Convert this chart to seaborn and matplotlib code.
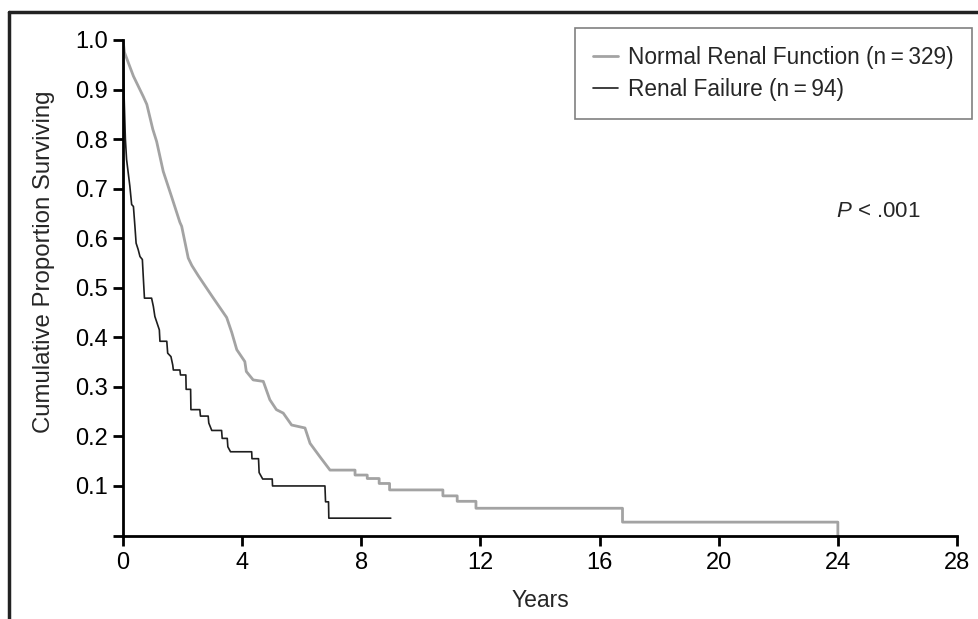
import matplotlib
matplotlib.use("Agg")
import matplotlib.pyplot as plt
import seaborn as sns
import pandas as pd
from matplotlib.lines import Line2D

# ---- data ----
normal_years = [0.0, 0.05, 0.18, 0.35, 0.68, 0.80, 1.00, 1.13, 1.35, 1.63, 1.91, 1.97,
                2.19, 2.31, 2.53, 3.00, 3.48, 3.65, 3.82, 4.09, 4.14, 4.37, 4.71, 4.93,
                5.15, 5.38, 5.66, 6.11, 6.28, 6.61, 6.95, 7.79, 7.79, 8.20, 8.20, 8.60,
                8.60, 8.95, 8.95, 10.74, 10.74, 11.22, 11.22, 11.85, 11.85, 16.77, 16.77,
                24.0, 24.0]
normal_surv = [1.0, 0.975, 0.954, 0.927, 0.886, 0.870, 0.820, 0.795, 0.735, 0.684, 0.632, 0.624,
               0.560, 0.545, 0.524, 0.482, 0.440, 0.410, 0.375, 0.351, 0.331, 0.314, 0.311, 0.274,
               0.254, 0.247, 0.223, 0.217, 0.186, 0.159, 0.132, 0.132, 0.122, 0.122, 0.115, 0.115,
               0.105, 0.105, 0.092, 0.092, 0.080, 0.080, 0.069, 0.069, 0.055, 0.055, 0.027,
               0.027, 0.0]

failure_years = [0.0, 0.03, 0.08, 0.12, 0.23, 0.29, 0.35, 0.40, 0.44, 0.51, 0.57, 0.65, 0.68,
                 0.72, 0.96, 1.02, 1.07, 1.22, 1.24, 1.47, 1.50, 1.61, 1.67, 1.69, 1.91, 1.93,
                 2.11, 2.12, 2.27, 2.28, 2.58, 2.60, 2.86, 2.88, 2.98, 3.31, 3.33, 3.50, 3.52,
                 3.61, 4.32, 4.33, 4.55, 4.57, 4.69, 5.01, 5.02, 6.78, 6.80, 6.90, 6.91, 8.99]
failure_surv = [1.0, 0.90, 0.80, 0.759, 0.705, 0.668, 0.664, 0.624, 0.590, 0.577, 0.563, 0.557, 0.523,
                0.479, 0.479, 0.462, 0.442, 0.415, 0.392, 0.392, 0.368, 0.361, 0.344, 0.334, 0.334, 0.324,
                0.324, 0.295, 0.295, 0.254, 0.254, 0.241, 0.241, 0.227, 0.212, 0.212, 0.196, 0.196, 0.179,
                0.169, 0.169, 0.155, 0.155, 0.127, 0.114, 0.114, 0.100, 0.100, 0.068, 0.068, 0.035, 0.035]

labels = ["Normal Renal Function (n\u2009=\u2009329)", "Renal Failure (n\u2009=\u200994)"]
x_ticks = [0, 4, 8, 12, 16, 20, 24, 28]
y_ticks = [0.0, 0.1, 0.2, 0.3, 0.4, 0.5, 0.6, 0.7, 0.8, 0.9, 1.0]
y_ticklabels = ["", "0.1", "0.2", "0.3", "0.4", "0.5", "0.6", "0.7", "0.8", "0.9", "1.0"]
p_text = "$P$ < .001"

sns.set_theme(style="ticks")
FONT = ["Liberation Sans Narrow", "Liberation Sans", "DejaVu Sans"]
plt.rcParams["font.family"] = FONT
plt.rcParams["mathtext.fontset"] = "custom"
plt.rcParams["mathtext.it"] = "Liberation Sans:italic"
plt.rcParams["mathtext.rm"] = "Liberation Sans"

W, H = 979, 619
fig = plt.figure(figsize=(W / 100, H / 100), dpi=100)
ax = fig.add_axes([123 / W, 1 - 535.5 / H, (957 - 123) / W, (535.5 - 40) / H])

df_n = pd.DataFrame({"Years": normal_years, "Surv": normal_surv})
df_f = pd.DataFrame({"Years": failure_years, "Surv": failure_surv})

sns.lineplot(data=df_n, x="Years", y="Surv", sort=False, estimator=None, ax=ax,
             color="#a3a3a3", linewidth=2.0, label=labels[0])
sns.lineplot(data=df_f, x="Years", y="Surv", sort=False, estimator=None, ax=ax,
             color="#1e1e1e", linewidth=1.2, label=labels[1])

ax.set_xlim(0, 28)
ax.set_ylim(0, 1.0)
ax.set_xticks(x_ticks)
ax.set_xticklabels([str(t) for t in x_ticks])
ax.set_yticks(y_ticks)
ax.set_yticklabels(y_ticklabels)
ax.tick_params(axis="both", direction="out", length=7, width=2, labelsize=17,
               colors="black", pad=4)
ax.tick_params(axis="x", pad=5)
for s in ["top", "right"]:
    ax.spines[s].set_visible(False)
for s in ["left", "bottom"]:
    ax.spines[s].set_linewidth(2)
    ax.spines[s].set_color("black")

ax.set_xlabel("Years", fontsize=16.5, labelpad=11)
ax.set_ylabel("Cumulative Proportion Surviving", fontsize=17.3)
ax.yaxis.set_label_coords(-0.081, 0.553)

ax.text(0.905, 0.654, p_text, transform=ax.transAxes, fontsize=16,
        ha="center", va="center")

leg = ax.legend(loc="upper right", bbox_to_anchor=(972 / W, 1 - 28 / H),
                bbox_transform=fig.transFigure, borderaxespad=0, fontsize=16.3,
                frameon=True, fancybox=False, edgecolor="#808080",
                handlelength=1.1, handletextpad=0.45, borderpad=0.8,
                labelspacing=0.38)
leg.get_frame().set_linewidth(1.2)
leg.get_frame().set_alpha(1)

# outer frame (top and left edges of the enclosing box)
fig.add_artist(Line2D([9 / W, 1], [1 - 11.5 / H, 1 - 11.5 / H], transform=fig.transFigure,
                      color="#222222", linewidth=2.5))
fig.add_artist(Line2D([9 / W, 9 / W], [0, 1 - 11.5 / H], transform=fig.transFigure,
                      color="#222222", linewidth=2.5))

fig.savefig("out.png", dpi=100)
